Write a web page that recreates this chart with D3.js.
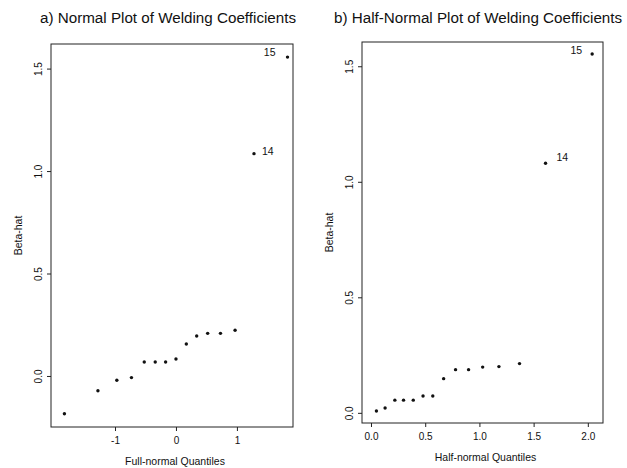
<!DOCTYPE html>
<html>
<head>
  <meta charset="utf-8">
  <title>Welding coefficients</title>
  <script src="https://cdn.jsdelivr.net/npm/d3@7"></script>
  <style>
    body { margin: 0; background: #fff; }
    text { font-family: "Liberation Sans", Arial, sans-serif; fill: #111; }
  </style>
</head>
<body>
<svg id="chart" width="627" height="468"></svg>
<script>
// a) full-normal quantiles vs beta-hat
var fullQuantiles = [-1.83, -1.28, -0.97, -0.73, -0.52, -0.34, -0.17, 0.0, 0.17, 0.34, 0.52, 0.73, 0.97, 1.28, 1.83];
var betaHat = [-0.184, -0.072, -0.021, -0.008, 0.068, 0.068, 0.068, 0.083, 0.156, 0.195, 0.208, 0.208, 0.223, 1.085, 1.556];
// b) half-normal quantiles vs |beta-hat|
var halfQuantiles = [0.05, 0.13, 0.22, 0.30, 0.39, 0.48, 0.57, 0.67, 0.78, 0.90, 1.03, 1.18, 1.37, 1.61, 2.04];
var absBetaHat = [0.008, 0.021, 0.055, 0.055, 0.055, 0.073, 0.073, 0.148, 0.187, 0.187, 0.198, 0.2, 0.213, 1.08, 1.553];
var pointLabels = ["", "", "", "", "", "", "", "", "", "", "", "", "", "14", "15"];

var fullTicks = [-1, 0, 1];
var halfTicks = [0, 0.5, 1, 1.5, 2];
var yTicks = [0, 0.5, 1, 1.5];

var svg = d3.select("#chart");

// plain hyphen for negatives, like the original
var intFmt = function(d) { return String(d); };

var panels = [
  {
    title: "a) Normal Plot of Welding Coefficients", titleX: 40,
    xLabel: "Full-normal Quantiles",
    xs: fullQuantiles, ys: betaHat, xTicks: fullTicks, xFmt: intFmt,
    xDomain: [-2.05, 1.92], yDomain: [-0.249, 1.62],
    left: 51, right: 293, top: 44, bottom: 427,
    labelPos: { 13: [8, 1, "start"], 14: [-12, -1, "end"] }
  },
  {
    title: "b) Half-Normal Plot of Welding Coefficients", titleX: 334,
    xLabel: "Half-normal Quantiles",
    xs: halfQuantiles, ys: absBetaHat, xTicks: halfTicks, xFmt: d3.format(".1f"),
    xDomain: [-0.083, 2.14], yDomain: [-0.044, 1.605],
    left: 362, right: 603, top: 42, bottom: 423,
    labelPos: { 13: [11, -2, "start"], 14: [-10, 0, "end"] }
  }
];

panels.forEach(function(p) {
  var x = d3.scaleLinear().domain(p.xDomain).range([p.left, p.right]);
  var y = d3.scaleLinear().domain(p.yDomain).range([p.bottom, p.top]);
  var g = svg.append("g");

  g.append("text")
    .attr("x", p.titleX).attr("y", 23)
    .attr("font-size", 15.2)
    .text(p.title);

  g.append("rect")
    .attr("x", p.left).attr("y", p.top)
    .attr("width", p.right - p.left).attr("height", p.bottom - p.top)
    .attr("fill", "none").attr("stroke", "#222").attr("stroke-width", 1);

  var xa = g.append("g")
    .attr("transform", "translate(0," + p.bottom + ")")
    .call(d3.axisBottom(x).tickValues(p.xTicks).tickFormat(p.xFmt).tickSize(4).tickSizeOuter(0));
  xa.select(".domain").remove();
  xa.selectAll("line").attr("stroke", "#222");
  xa.selectAll("text").attr("font-size", 10).attr("y", 10).attr("fill", "#111")
    .style("font-family", "Liberation Sans, Arial, sans-serif");

  var ya = g.append("g")
    .attr("transform", "translate(" + p.left + ",0)")
    .call(d3.axisLeft(y).tickValues(yTicks).tickFormat(d3.format(".1f")).tickSize(4).tickSizeOuter(0));
  ya.select(".domain").remove();
  ya.selectAll("line").attr("stroke", "#222");
  ya.selectAll("text")
    .attr("x", null).attr("dy", "0.35em")
    .attr("transform", "translate(-13,0) rotate(-90)")
    .attr("text-anchor", "middle").attr("font-size", 10).attr("fill", "#111")
    .style("font-family", "Liberation Sans, Arial, sans-serif");

  g.append("text")
    .attr("transform", "translate(" + (p.left - 33) + "," + ((p.top + p.bottom) / 2) + ") rotate(-90)")
    .attr("dy", "0.35em")
    .attr("text-anchor", "middle").attr("font-size", 10.5)
    .text("Beta-hat");

  g.append("text")
    .attr("x", (p.left + p.right) / 2 + 3).attr("y", p.bottom + 38)
    .attr("text-anchor", "middle").attr("font-size", 10.5)
    .text(p.xLabel);

  g.selectAll("circle.pt")
    .data(p.xs)
    .enter().append("circle")
    .attr("class", "pt")
    .attr("cx", function(d) { return x(d); })
    .attr("cy", function(d, i) { return y(p.ys[i]); })
    .attr("r", 1.7)
    .attr("fill", "#111");

  p.xs.forEach(function(d, i) {
    if (!pointLabels[i]) return;
    var o = p.labelPos[i];
    g.append("text")
      .attr("x", x(d) + o[0]).attr("y", y(p.ys[i]) + o[1])
      .attr("text-anchor", o[2]).attr("font-size", 10.5)
      .text(pointLabels[i]);
  });
});
</script>
</body>
</html>
